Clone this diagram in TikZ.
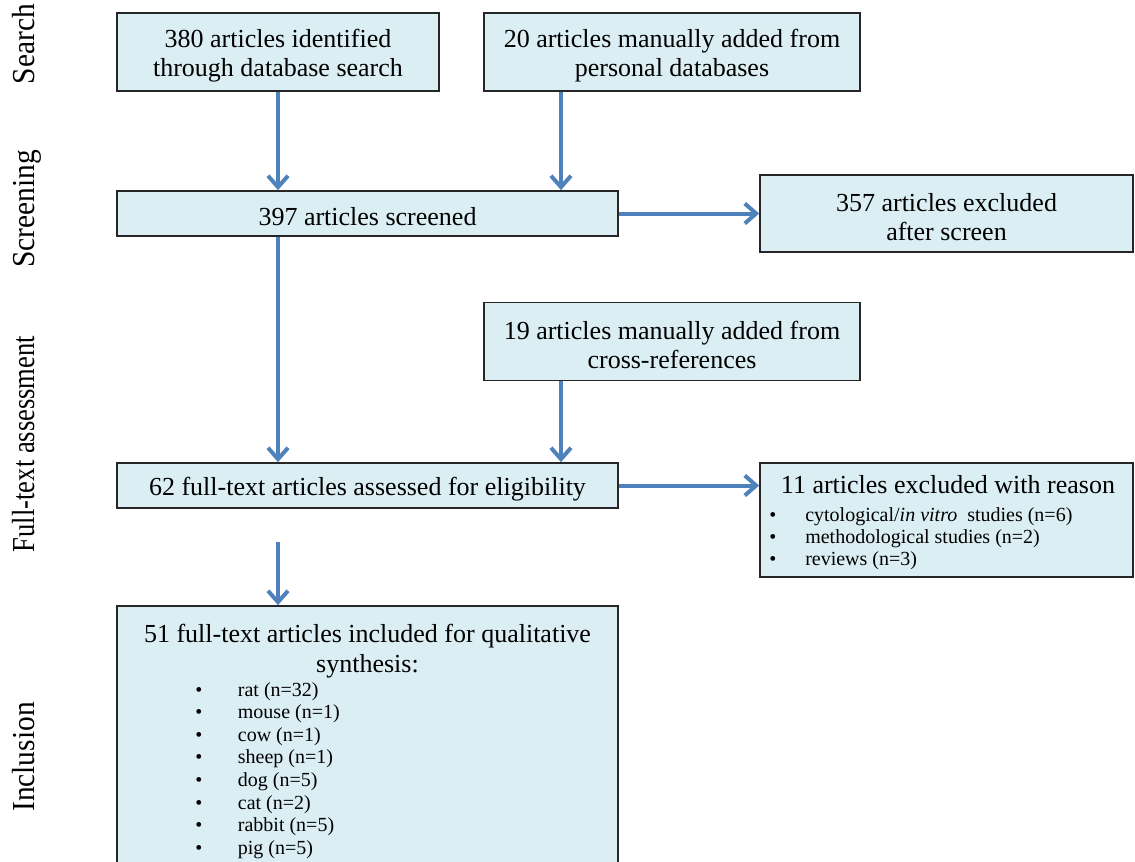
\documentclass[tikz,border=0pt]{standalone}
\usepackage{fontspec}
\setmainfont{Liberation Serif}
\newfontfamily\labelfont[FakeStretch=0.92]{Liberation Serif}
\newfontfamily\labelfontnarrow[FakeStretch=0.83]{Liberation Serif}
\usetikzlibrary{arrows.meta}
\definecolor{boxfill}{HTML}{DAEEF3}
\definecolor{arrowblue}{HTML}{4F81BD}
\tikzset{
  box/.style={draw=black!85, line width=1.3pt, fill=boxfill, inner sep=0pt},
  btext/.style={align=center, inner sep=0pt, yshift=-2.5pt,
    font=\fontsize{19.5}{21.75}\selectfont},
  arr/.style={draw=arrowblue, line width=3pt, -{Straight Barb[length=8.5pt,width=15pt]}},
  stage/.style={rotate=90, anchor=base, font=\labelfont\fontsize{24}{28}\selectfont},
  listitem/.style={anchor=base west, inner sep=0pt, font=\fontsize{15}{17}\selectfont},
  titletext/.style={align=center, inner sep=0pt, font=\fontsize{19.5}{23}\selectfont}
}
\begin{document}
\begin{tikzpicture}[x=0.75pt,y=-0.75pt]
\useasboundingbox (0,0) rectangle (1135,861);
% stage labels
\node[stage] (lsearch) at (34,44) {Search};
\node[stage] (lscreen) at (34,209) {Screening};
\node[stage, font=\labelfontnarrow\fontsize{24}{28}\selectfont] (lfull) at (34,444) {Full-text assessment};
\node[stage] (lincl) at (34,757) {Inclusion};
% boxes
\node[box, minimum width=241.5pt, minimum height=58.5pt] (boxA) at (278,52) {};
\node[box, minimum width=282pt, minimum height=58.5pt] (boxB) at (672,52) {};
\node[box, minimum width=375.75pt, minimum height=33.75pt] (boxC) at (367.5,213.5) {};
\node[box, minimum width=279.75pt, minimum height=57.75pt] (boxD) at (946.5,213.5) {};
\node[box, minimum width=282pt, minimum height=58.5pt] (boxE) at (672,341.5) {};
\node[box, minimum width=375.75pt, minimum height=33.75pt] (boxF) at (367.5,485.5) {};
\node[box, minimum width=279.75pt, minimum height=85.5pt] (boxG) at (946.5,520) {};
\node[box, minimum width=375.75pt, minimum height=210pt] (boxH) at (367.5,746) {};
% box texts
\node[btext] (tA) at (boxA) {380 articles identified\\through database search};
\node[btext] (tB) at (boxB) {20 articles manually added from\\personal databases};
\node[btext] (tC) at (boxC) {397 articles screened};
\node[btext] (tD) at (boxD) {357 articles excluded\\after screen};
\node[btext] (tE) at (boxE) {19 articles manually added from\\cross-references};
\node[btext] (tF) at (boxF) {62 full-text articles assessed for eligibility};
% box G content
\node[titletext] (gtitle) at (948,485) {11 articles excluded with reason};
\node[listitem] (g1) at (769,521) {\makebox[27pt][l]{•}cytological/\textit{in vitro}\ \ studies (n=6)};
\node[listitem] (g2) at (769,543) {\makebox[27pt][l]{•}methodological studies (n=2)};
\node[listitem] (g3) at (769,565) {\makebox[27pt][l]{•}reviews (n=3)};
% box H content
\node[titletext] (htitle) at (367.5,651) {51 full-text articles included for qualitative\\synthesis:};
\foreach \t [count=\i] in {rat (n=32), mouse (n=1), cow (n=1), sheep (n=1), dog (n=5), cat (n=2), rabbit (n=5), pig (n=5)}
  \node[listitem] (h\i) at (195,{696+22.6*(\i-1)}) {\makebox[32pt][l]{•}\t};
% connectors
\coordinate (xb) at (561,0);
\coordinate (hstart) at (278,542);
\draw[arr] (boxA.south) -- (boxA.south |- boxC.north);
\draw[arr] (boxB.south -| xb) -- (boxC.north -| xb);
\draw[arr] (boxC.east) -- (boxD.west);
\draw[arr] (boxC.south -| boxA) -- (boxF.north -| boxA);
\draw[arr] (boxE.south -| xb) -- (boxF.north -| xb);
\draw[arr] (boxF.east) -- (boxF.east -| boxG.west);
\draw[arr] (hstart) -- (boxH.north -| hstart);
\end{tikzpicture}
\end{document}
